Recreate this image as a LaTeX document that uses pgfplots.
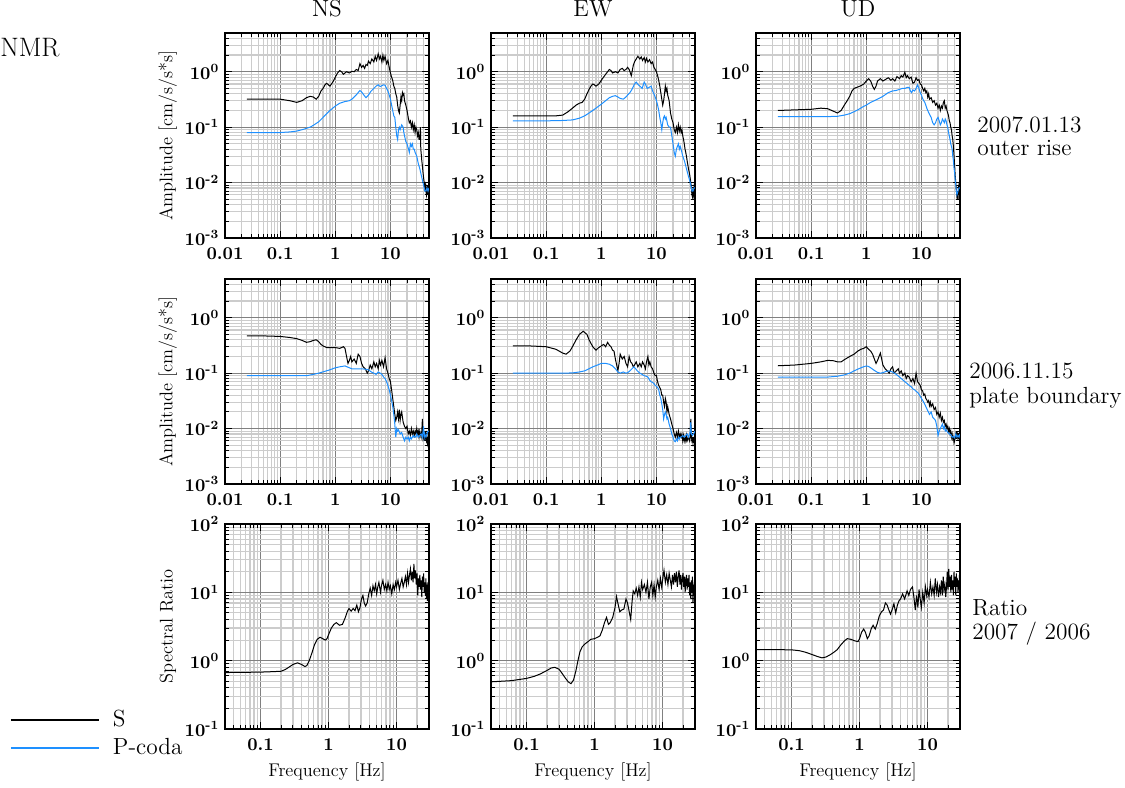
\documentclass[border=0pt]{standalone}
\usepackage{pgfplots}
\pgfplotsset{compat=1.18}
\definecolor{pcoda}{RGB}{30,144,255}
\newcommand{\tp}[1]{10\textsuperscript{#1}}
\pgfplotsset{
 myBase/.style={
  scale only axis, width=122.4pt, height=123pt,
  grid=both,
  major grid style={draw=black!50, line width=0.5pt},
  minor grid style={draw=black!20, line width=0.7pt},
  axis line style={line width=1pt},
  major tick length=4pt, minor tick length=2.2pt,
  tick style={black, line width=0.6pt},
  tick label style={font=\fontsize{10.8}{11}\selectfont\bfseries\boldmath},
  xticklabel style={yshift=-2pt},
  label style={font=\fontsize{11}{13}\selectfont},
  title style={font=\fontsize{14}{16}\selectfont},
  ylabel style={at={(axis description cs:-0.28,0.5)}, anchor=center},
 },
 myAmp/.style={myBase, xmin=0.01, xmax=50, ymin=1e-3, ymax=5,
  xtick={0.01,0.1,1,10}, xticklabels={0.01,0.1,1,10},
  ytick={0.001,0.01,0.1,1}, yticklabels={\tp{-3},\tp{-2},\tp{-1},\tp{0}},
  minor xtick={0.02,0.03,0.04,0.05,0.06,0.07,0.08,0.09,0.2,0.3,0.4,0.5,0.6,0.7,0.8,0.9,2,3,4,5,6,7,8,9,20,30,40,50},
  minor ytick={0.002,0.003,0.004,0.005,0.006,0.007,0.008,0.009,0.02,0.03,0.04,0.05,0.06,0.07,0.08,0.09,0.2,0.3,0.4,0.5,0.6,0.7,0.8,0.9,2,3,4,5},
 },
 myRat/.style={myBase, xmin=0.03, xmax=30, ymin=0.1, ymax=100,
  xtick={0.1,1,10}, xticklabels={0.1,1,10},
  ytick={0.1,1,10,100}, yticklabels={\tp{-1},\tp{0},\tp{1},\tp{2}},
  minor xtick={0.03,0.04,0.05,0.06,0.07,0.08,0.09,0.2,0.3,0.4,0.5,0.6,0.7,0.8,0.9,2,3,4,5,6,7,8,9,20,30},
  minor ytick={0.2,0.3,0.4,0.5,0.6,0.7,0.8,0.9,2,3,4,5,6,7,8,9,20,30,40,50,60,70,80,90},
  xlabel={Frequency [Hz]},
  xlabel style={at={(axis description cs:0.5,-0.21)}, anchor=center},
 },
}
\tikzset{mySline/.style={black, line width=0.6pt}, myPline/.style={pcoda, line width=0.6pt}}
\begin{document}
\begin{tikzpicture}
\path[use as bounding box] (0,0) rectangle (675pt,472.2pt);
\node[anchor=west, inner sep=0pt, font=\fontsize{16}{18}\selectfont] at (0pt,443.4pt) {NMR};
\node[anchor=west, align=left, inner sep=0pt, font=\fontsize{14}{13.8}\selectfont] at (586.2pt,390.3pt) {2007.01.13\\outer rise};
\node[anchor=west, align=left, inner sep=0pt, font=\fontsize{14}{14.8}\selectfont] at (581.4pt,240.9pt) {2006.11.15\\plate boundary};
\node[anchor=west, align=left, inner sep=0pt, font=\fontsize{14}{14.4}\selectfont] at (583.2pt,99pt) {Ratio\\2007 / 2006};

% ---------- Row 1: 2007 outer rise ----------
\begin{loglogaxis}[myAmp, at={(135pt,452.4pt)}, anchor=north west, title={NS}, ylabel={Amplitude [cm/s/s*s]}]
\addplot[mySline] coordinates {(0.025,0.32)(0.05,0.32)(0.1,0.32)(0.15,0.3)(0.2,0.28)(0.25,0.3)(0.3,0.34)(0.35,0.36)(0.4,0.35)(0.45,0.32)(0.5,0.36)(0.55,0.45)(0.6,0.5)(0.65,0.58)(0.7,0.62)(0.75,0.58)(0.8,0.55)(0.9,0.65)(1.0,0.8)(1.1,0.95)(1.2,1.05)(1.3,1.0)(1.4,0.9)(1.5,0.95)(1.6,1.0)(1.8,0.95)(2.0,1.02)(2.2,1.0)(2.4,1.1)(2.6,1.05)(2.8,1.4)(3.0,1.2)(3.2,1.3)(3.4,1.15)(3.6,1.35)(3.8,1.3)(4.0,1.55)(4.3,1.4)(4.6,1.7)(5.0,1.5)(5.3,1.9)(5.6,1.6)(6.0,2.1)(6.3,1.7)(6.6,1.9)(7.0,1.5)(7.3,2.0)(7.6,1.6)(8.0,1.9)(8.5,1.4)(9.0,1.6)(9.5,1.2)(10,0.95)(10.5,0.8)(11,0.7)(11.5,0.55)(12,0.5)(12.5,0.4)(13,0.35)(13.5,0.25)(14,0.2)(14.5,0.18)(15,0.25)(15.5,0.35)(16,0.3)(16.5,0.42)(17,0.38)(17.5,0.4)(18,0.3)(19,0.25)(20,0.2)(21,0.15)(22,0.12)(23,0.13)(24,0.1)(25,0.12)(26,0.09)(27,0.11)(28,0.08)(29,0.1)(30,0.09)(31,0.07)(32,0.08)(33,0.06)(34,0.06)(35,0.1)(35.5,0.04)(36,0.035)(37,0.025)(38,0.02)(39,0.015)(40,0.012)(41,0.01)(42,0.008)(43,0.009)(44,0.007)(45,0.006)(46,0.008)(47,0.007)(48,0.009)(49,0.007)(50,0.008)};
\addplot[myPline] coordinates {(0.025,0.08)(0.05,0.08)(0.1,0.08)(0.15,0.082)(0.2,0.085)(0.25,0.09)(0.3,0.095)(0.35,0.1)(0.4,0.108)(0.5,0.125)(0.6,0.15)(0.7,0.175)(0.8,0.2)(1.0,0.24)(1.2,0.27)(1.5,0.29)(1.8,0.3)(2.0,0.32)(2.2,0.35)(2.5,0.4)(2.8,0.46)(3.0,0.43)(3.3,0.38)(3.6,0.34)(4.0,0.38)(4.4,0.44)(5.0,0.5)(5.5,0.55)(6.0,0.58)(6.5,0.54)(7.0,0.56)(7.5,0.58)(8.0,0.57)(8.5,0.5)(9.0,0.45)(9.5,0.38)(10,0.32)(10.5,0.25)(11,0.2)(11.5,0.16)(12,0.15)(12.5,0.1)(13,0.07)(13.5,0.06)(14,0.09)(14.5,0.1)(15,0.09)(16,0.11)(17,0.1)(17.5,0.08)(18,0.07)(19,0.055)(20,0.05)(21,0.042)(22,0.035)(23,0.05)(24,0.045)(25,0.05)(26,0.04)(27,0.04)(28,0.035)(30,0.03)(32,0.022)(34,0.018)(36,0.014)(38,0.011)(40,0.009)(42,0.007)(44,0.007)(46,0.008)(48,0.007)(50,0.008)};
\end{loglogaxis}

\begin{loglogaxis}[myAmp, at={(294.6pt,452.4pt)}, anchor=north west, title={EW}]
\addplot[mySline] coordinates {(0.025,0.16)(0.05,0.16)(0.1,0.16)(0.15,0.16)(0.2,0.165)(0.25,0.19)(0.3,0.22)(0.35,0.25)(0.4,0.27)(0.45,0.28)(0.5,0.32)(0.55,0.4)(0.6,0.48)(0.65,0.55)(0.7,0.6)(0.75,0.58)(0.8,0.55)(0.9,0.6)(1.0,0.7)(1.1,0.8)(1.2,0.9)(1.3,1.0)(1.4,1.1)(1.5,1.05)(1.6,0.95)(1.8,1.0)(2.0,0.95)(2.2,1.1)(2.4,1.15)(2.6,1.05)(2.8,1.1)(3.0,1.2)(3.2,1.1)(3.5,0.85)(3.8,1.3)(4.0,1.5)(4.3,1.7)(4.6,1.9)(5.0,1.7)(5.3,1.85)(5.6,1.6)(6.0,1.8)(6.3,1.5)(6.6,1.75)(7.0,1.5)(7.5,1.65)(8.0,1.4)(8.5,1.5)(9.0,1.2)(9.5,1.1)(10,1.0)(10.5,0.85)(11,0.7)(11.5,0.55)(12,0.42)(12.5,0.32)(13,0.25)(13.5,0.3)(14,0.4)(14.5,0.55)(15,0.45)(15.5,0.5)(16,0.38)(17,0.3)(18,0.18)(19,0.14)(20,0.12)(21,0.09)(22,0.08)(23,0.1)(24,0.08)(25,0.11)(26,0.085)(27,0.1)(28,0.08)(29,0.09)(30,0.07)(31,0.06)(32,0.05)(33,0.04)(34,0.035)(35,0.03)(36,0.025)(38,0.018)(40,0.014)(42,0.01)(43,0.008)(44,0.006)(45,0.0055)(46,0.007)(47,0.006)(48,0.008)(49,0.007)(50,0.009)};
\addplot[myPline] coordinates {(0.025,0.13)(0.05,0.13)(0.1,0.13)(0.2,0.132)(0.3,0.135)(0.4,0.145)(0.5,0.16)(0.6,0.18)(0.7,0.2)(0.85,0.23)(1.0,0.26)(1.2,0.3)(1.4,0.34)(1.6,0.36)(1.8,0.37)(2.0,0.35)(2.2,0.33)(2.5,0.32)(2.8,0.35)(3.0,0.38)(3.3,0.42)(3.6,0.48)(4.0,0.6)(4.3,0.65)(4.7,0.58)(5.0,0.55)(5.5,0.5)(6.0,0.65)(6.3,0.6)(6.8,0.5)(7.3,0.52)(8.0,0.55)(8.5,0.45)(9.0,0.4)(9.5,0.35)(10,0.3)(10.5,0.25)(11,0.2)(11.5,0.15)(12,0.12)(12.5,0.09)(13,0.12)(13.5,0.15)(14,0.16)(14.5,0.14)(15,0.15)(16,0.11)(17,0.1)(18,0.1)(19,0.07)(20,0.05)(21,0.035)(22,0.03)(23,0.04)(24,0.045)(25,0.05)(26,0.04)(27,0.045)(28,0.04)(30,0.03)(32,0.025)(34,0.02)(36,0.016)(38,0.013)(40,0.011)(42,0.009)(44,0.007)(46,0.007)(48,0.008)(50,0.008)};
\end{loglogaxis}

\begin{loglogaxis}[myAmp, at={(453.6pt,452.4pt)}, anchor=north west, title={UD}]
\addplot[mySline] coordinates {(0.025,0.2)(0.05,0.205)(0.1,0.21)(0.15,0.22)(0.2,0.215)(0.25,0.195)(0.3,0.18)(0.35,0.2)(0.4,0.25)(0.45,0.3)(0.5,0.36)(0.55,0.45)(0.6,0.5)(0.7,0.53)(0.8,0.56)(0.9,0.6)(1.0,0.68)(1.1,0.75)(1.2,0.68)(1.3,0.55)(1.4,0.48)(1.5,0.55)(1.6,0.68)(1.8,0.75)(2.0,0.68)(2.2,0.72)(2.5,0.78)(2.8,0.7)(3.0,0.75)(3.3,0.68)(3.6,0.82)(4.0,0.75)(4.3,0.85)(4.6,0.8)(5.0,0.98)(5.3,0.78)(5.6,0.85)(6.0,0.75)(6.5,0.8)(7.0,0.62)(7.5,0.65)(8.0,0.78)(8.5,0.7)(9.0,0.72)(9.5,0.6)(10,0.58)(10.5,0.5)(11,0.45)(11.5,0.5)(12,0.42)(12.5,0.45)(13,0.35)(13.5,0.4)(14,0.32)(15,0.34)(16,0.28)(17,0.3)(18,0.25)(19,0.27)(20,0.22)(21,0.25)(22,0.2)(23,0.24)(24,0.22)(25,0.28)(26,0.3)(27,0.22)(28,0.24)(29,0.2)(30,0.18)(31,0.16)(32,0.13)(33,0.12)(34,0.1)(35,0.09)(36,0.07)(37,0.06)(38,0.045)(39,0.03)(40,0.02)(41,0.013)(42,0.01)(43,0.007)(44,0.0055)(45,0.006)(46,0.005)(47,0.008)(48,0.007)(49,0.009)(50,0.009)};
\addplot[myPline] coordinates {(0.025,0.155)(0.05,0.155)(0.1,0.155)(0.2,0.155)(0.3,0.157)(0.4,0.165)(0.5,0.175)(0.6,0.19)(0.7,0.205)(0.85,0.23)(1.0,0.25)(1.2,0.28)(1.5,0.31)(1.8,0.34)(2.0,0.36)(2.5,0.42)(3.0,0.45)(3.5,0.46)(4.0,0.48)(4.5,0.5)(5.0,0.5)(5.5,0.52)(6.0,0.52)(6.3,0.45)(6.6,0.42)(7.0,0.47)(7.5,0.45)(8.0,0.5)(8.5,0.58)(9.0,0.5)(9.5,0.42)(10,0.38)(10.5,0.33)(11,0.3)(11.5,0.28)(12,0.25)(12.5,0.22)(13,0.2)(14,0.17)(15,0.15)(16,0.12)(17,0.11)(18,0.12)(19,0.14)(20,0.15)(21,0.13)(22,0.11)(23,0.12)(24,0.14)(25,0.13)(26,0.12)(27,0.14)(28,0.13)(29,0.11)(30,0.1)(31,0.08)(32,0.07)(33,0.06)(34,0.05)(35,0.045)(36,0.04)(37,0.03)(38,0.025)(39,0.018)(40,0.015)(41,0.011)(42,0.009)(43,0.007)(44,0.006)(46,0.007)(48,0.008)(50,0.008)};
\end{loglogaxis}

% ---------- Row 2: 2006 plate boundary ----------
\begin{loglogaxis}[myAmp, at={(135pt,304.8pt)}, anchor=north west, ylabel={Amplitude [cm/s/s*s]}]
\addplot[mySline] coordinates {(0.025,0.47)(0.05,0.47)(0.1,0.46)(0.15,0.44)(0.2,0.42)(0.25,0.39)(0.3,0.36)(0.35,0.37)(0.4,0.39)(0.45,0.4)(0.5,0.37)(0.55,0.33)(0.6,0.31)(0.7,0.29)(0.8,0.29)(1.0,0.29)(1.2,0.28)(1.3,0.29)(1.4,0.3)(1.5,0.28)(1.6,0.2)(1.7,0.15)(1.8,0.17)(1.9,0.2)(2.0,0.16)(2.2,0.18)(2.4,0.15)(2.6,0.22)(2.8,0.2)(3.0,0.15)(3.2,0.13)(3.5,0.12)(3.8,0.1)(4.0,0.11)(4.3,0.14)(4.6,0.12)(5.0,0.16)(5.3,0.13)(5.6,0.15)(6.0,0.12)(6.3,0.17)(6.6,0.14)(7.0,0.17)(7.5,0.13)(8.0,0.19)(8.5,0.12)(9.0,0.1)(9.5,0.08)(10,0.07)(10.5,0.05)(11,0.035)(11.5,0.025)(12,0.018)(12.5,0.014)(13,0.016)(13.5,0.02)(14,0.015)(14.5,0.022)(15,0.014)(15.5,0.018)(16,0.02)(17,0.013)(18,0.011)(19,0.01)(20,0.011)(21,0.008)(22,0.009)(23,0.0075)(24,0.01)(25,0.008)(26,0.009)(27,0.0075)(28,0.009)(29,0.008)(30,0.01)(31,0.008)(32,0.009)(33,0.007)(34,0.009)(35,0.008)(36,0.007)(37,0.009)(38,0.015)(39,0.007)(40,0.008)(41,0.006)(42,0.009)(43,0.007)(44,0.008)(45,0.006)(46,0.0065)(47,0.0055)(48,0.007)(49,0.006)(50,0.007)};
\addplot[myPline] coordinates {(0.025,0.09)(0.1,0.09)(0.2,0.09)(0.3,0.09)(0.4,0.095)(0.5,0.1)(0.65,0.108)(0.8,0.115)(1.0,0.125)(1.2,0.13)(1.5,0.135)(1.7,0.128)(2.0,0.12)(2.5,0.12)(3.0,0.12)(3.5,0.118)(4.0,0.115)(4.5,0.105)(5.0,0.1)(5.5,0.095)(6.0,0.105)(6.5,0.1)(7.0,0.095)(7.5,0.085)(8.0,0.08)(8.5,0.07)(9.0,0.06)(9.5,0.05)(10,0.04)(10.5,0.032)(11,0.025)(11.5,0.018)(12,0.012)(12.5,0.007)(13,0.01)(13.5,0.009)(14,0.0095)(15,0.008)(16,0.0085)(17,0.007)(18,0.006)(19,0.007)(20,0.0065)(21,0.007)(22,0.006)(23,0.007)(24,0.0065)(25,0.007)(26,0.0075)(27,0.007)(28,0.0072)(29,0.007)(30,0.008)(32,0.007)(34,0.0075)(36,0.008)(38,0.007)(40,0.011)(41,0.007)(42,0.008)(44,0.007)(46,0.008)(48,0.009)(50,0.009)};
\end{loglogaxis}

\begin{loglogaxis}[myAmp, at={(294.6pt,304.8pt)}, anchor=north west]
\addplot[mySline] coordinates {(0.025,0.31)(0.05,0.31)(0.1,0.3)(0.15,0.27)(0.2,0.23)(0.23,0.22)(0.27,0.25)(0.3,0.3)(0.35,0.4)(0.4,0.5)(0.47,0.57)(0.55,0.5)(0.6,0.4)(0.7,0.3)(0.8,0.26)(0.9,0.29)(1.0,0.31)(1.1,0.33)(1.2,0.3)(1.3,0.36)(1.4,0.32)(1.5,0.3)(1.6,0.26)(1.7,0.25)(1.8,0.18)(1.9,0.14)(2.0,0.11)(2.1,0.15)(2.2,0.22)(2.4,0.18)(2.6,0.2)(2.8,0.15)(3.0,0.13)(3.2,0.2)(3.4,0.16)(3.6,0.15)(3.8,0.13)(4.0,0.14)(4.3,0.16)(4.6,0.13)(5.0,0.15)(5.3,0.13)(5.6,0.16)(6.0,0.14)(6.3,0.12)(6.6,0.16)(7.0,0.2)(7.3,0.14)(7.6,0.16)(8.0,0.13)(8.5,0.12)(9.0,0.1)(9.5,0.09)(10,0.09)(10.5,0.07)(11,0.06)(11.5,0.055)(12,0.05)(12.5,0.04)(13,0.04)(13.5,0.03)(14,0.025)(14.5,0.035)(15,0.03)(15.5,0.02)(16,0.025)(17,0.018)(18,0.015)(19,0.012)(20,0.01)(21,0.008)(22,0.007)(23,0.0085)(24,0.007)(25,0.009)(26,0.007)(27,0.008)(28,0.007)(29,0.008)(30,0.006)(31,0.0075)(32,0.006)(33,0.007)(34,0.006)(35,0.0075)(36,0.006)(38,0.007)(40,0.006)(41,0.007)(42,0.015)(43,0.007)(44,0.006)(45,0.0065)(46,0.0055)(47,0.0065)(48,0.006)(49,0.007)(50,0.007)};
\addplot[myPline] coordinates {(0.025,0.1)(0.1,0.1)(0.2,0.1)(0.3,0.101)(0.4,0.105)(0.5,0.11)(0.6,0.12)(0.7,0.13)(0.85,0.14)(1.0,0.15)(1.2,0.15)(1.4,0.145)(1.6,0.135)(1.8,0.12)(2.0,0.105)(2.2,0.1)(2.5,0.105)(2.8,0.1)(3.0,0.102)(3.3,0.11)(3.6,0.12)(3.9,0.13)(4.2,0.12)(4.5,0.11)(5.0,0.1)(5.5,0.095)(6.0,0.09)(6.5,0.088)(7.0,0.085)(7.5,0.075)(8.0,0.07)(8.5,0.068)(9.0,0.065)(9.5,0.06)(10,0.058)(10.5,0.055)(11,0.05)(11.5,0.04)(12,0.035)(12.5,0.028)(13,0.022)(13.5,0.015)(14,0.018)(14.5,0.02)(15,0.018)(15.5,0.015)(16,0.016)(17,0.012)(18,0.01)(19,0.008)(20,0.007)(21,0.006)(22,0.0058)(23,0.0065)(24,0.006)(25,0.007)(26,0.0065)(27,0.007)(28,0.007)(30,0.0075)(32,0.007)(34,0.0075)(36,0.008)(38,0.007)(40,0.008)(41,0.009)(42,0.013)(43,0.008)(45,0.0075)(47,0.008)(50,0.009)};
\end{loglogaxis}

\begin{loglogaxis}[myAmp, at={(453.6pt,304.8pt)}, anchor=north west]
\addplot[mySline] coordinates {(0.025,0.136)(0.05,0.14)(0.1,0.15)(0.15,0.16)(0.2,0.17)(0.25,0.168)(0.3,0.16)(0.35,0.16)(0.4,0.175)(0.5,0.2)(0.6,0.22)(0.7,0.25)(0.8,0.27)(0.9,0.28)(1.0,0.3)(1.1,0.27)(1.2,0.25)(1.3,0.22)(1.4,0.18)(1.5,0.15)(1.6,0.17)(1.7,0.2)(1.8,0.23)(1.9,0.18)(2.0,0.14)(2.2,0.12)(2.4,0.11)(2.6,0.1)(2.8,0.12)(3.0,0.13)(3.2,0.1)(3.5,0.11)(3.8,0.12)(4.0,0.1)(4.3,0.11)(4.6,0.09)(5.0,0.1)(5.3,0.08)(5.6,0.09)(6.0,0.085)(6.5,0.07)(7.0,0.08)(7.5,0.065)(8.0,0.1)(8.5,0.07)(9.0,0.065)(9.5,0.06)(10,0.05)(10.5,0.048)(11,0.04)(11.5,0.042)(12,0.035)(12.5,0.033)(13,0.03)(13.5,0.032)(14,0.026)(14.5,0.03)(15,0.025)(16,0.028)(17,0.022)(18,0.024)(19,0.018)(20,0.02)(21,0.016)(22,0.019)(23,0.014)(24,0.016)(25,0.013)(26,0.014)(27,0.011)(28,0.012)(29,0.01)(30,0.011)(31,0.009)(32,0.01)(33,0.008)(34,0.009)(35,0.007)(36,0.008)(37,0.0065)(38,0.007)(39,0.0055)(40,0.006)(41,0.007)(42,0.008)(43,0.0065)(44,0.009)(45,0.007)(46,0.0065)(47,0.0075)(48,0.007)(49,0.008)(50,0.008)};
\addplot[myPline] coordinates {(0.025,0.085)(0.1,0.085)(0.2,0.085)(0.3,0.088)(0.4,0.093)(0.5,0.1)(0.6,0.11)(0.7,0.118)(0.85,0.128)(1.0,0.135)(1.1,0.132)(1.2,0.125)(1.4,0.112)(1.6,0.103)(1.8,0.1)(2.0,0.102)(2.3,0.108)(2.6,0.11)(3.0,0.105)(3.5,0.095)(4.0,0.085)(4.5,0.077)(5.0,0.07)(5.5,0.065)(6.0,0.06)(6.5,0.057)(7.0,0.052)(7.5,0.05)(8.0,0.047)(8.5,0.045)(9.0,0.042)(9.5,0.038)(10,0.035)(11,0.03)(12,0.025)(13,0.021)(14,0.018)(15,0.02)(16,0.016)(17,0.015)(18,0.014)(19,0.011)(20,0.0075)(21,0.009)(22,0.01)(23,0.011)(24,0.012)(25,0.01)(26,0.011)(27,0.009)(28,0.0095)(29,0.009)(30,0.0085)(32,0.008)(34,0.0078)(36,0.007)(38,0.0072)(40,0.0068)(42,0.008)(44,0.007)(46,0.0075)(48,0.007)(50,0.008)};
\end{loglogaxis}

% ---------- Row 3: spectral ratio ----------
\begin{loglogaxis}[myRat, at={(135pt,157.8pt)}, anchor=north west, ylabel={Spectral Ratio},
  legend style={at={(axis description cs:-1.054,0.108)}, anchor=north west, draw=none, fill=none,
    font=\fontsize{14}{16}\selectfont, inner sep=0pt, row sep=1.5pt},
  legend cell align=left,
  legend image code/.code={\draw[#1] (0pt,0pt) -- (52.8pt,0pt);}]
\addlegendimage{black, line width=0.8pt}\addlegendentry{\hspace{6pt}S}
\addlegendimage{pcoda, line width=0.8pt}\addlegendentry{\hspace{6pt}P-coda}
\addplot[mySline, forget plot] coordinates {(0.03,0.67)(0.06,0.675)(0.1,0.68)(0.15,0.69)(0.2,0.7)(0.23,0.74)(0.26,0.8)(0.3,0.88)(0.35,0.93)(0.4,0.88)(0.45,0.82)(0.48,0.85)(0.52,1.0)(0.57,1.3)(0.62,1.7)(0.68,2.05)(0.75,2.2)(0.82,2.1)(0.9,2.0)(0.95,2.1)(1.0,2.4)(1.1,3.0)(1.2,3.4)(1.3,3.6)(1.45,3.3)(1.6,3.4)(1.75,4.2)(1.9,5.3)(2.0,5.8)(2.15,5.3)(2.3,5.8)(2.45,5.4)(2.6,6.5)(2.75,5.2)(2.9,6.0)(3.05,8.0)(3.2,9.0)(3.35,7.0)(3.5,6.3)(3.7,7.0)(3.9,9.5)(4.1,11.5)(4.3,9.0)(4.5,12.5)(4.7,10.5)(4.9,13)(5.1,9.5)(5.3,12)(5.5,14)(5.8,10)(6.0,12.5)(6.3,15)(6.6,11)(6.9,13)(7.2,10.5)(7.5,14)(7.8,11)(8.1,12.5)(8.5,9.5)(8.9,13)(9.3,11)(9.7,14)(10,12)(10.5,15)(11,11)(11.5,13.5)(12,16)(12.5,12)(13,14)(13.5,17)(14,13)(14.5,19)(15,14)(15.5,18)(16,22)(16.5,15)(17,20)(17.5,14)(18,26)(18.5,16)(19,21)(19.5,13)(20,19)(20.5,9)(21,16)(21.5,12)(22,18)(22.5,11)(23,15)(23.5,8.5)(24,17)(24.5,12)(25,19)(25.5,10)(26,14)(26.5,9)(27,16)(27.5,8)(28,13)(28.5,7.5)(29,14)(29.5,10)(30,12)};
\end{loglogaxis}

\begin{loglogaxis}[myRat, at={(294.6pt,157.8pt)}, anchor=north west]
\addplot[mySline] coordinates {(0.03,0.49)(0.06,0.51)(0.1,0.55)(0.13,0.59)(0.16,0.64)(0.2,0.72)(0.23,0.78)(0.26,0.8)(0.3,0.75)(0.33,0.66)(0.37,0.56)(0.41,0.49)(0.45,0.46)(0.49,0.52)(0.53,0.7)(0.57,1.0)(0.61,1.35)(0.66,1.6)(0.72,1.75)(0.8,1.9)(0.88,2.05)(1.0,2.1)(1.1,2.2)(1.2,2.3)(1.3,2.8)(1.4,3.6)(1.5,4.3)(1.6,3.4)(1.7,3.6)(1.85,4.3)(2.0,6.0)(2.1,8.7)(2.2,7.0)(2.35,5.2)(2.5,5.5)(2.7,5.7)(2.9,8.0)(3.05,7.0)(3.2,5.5)(3.4,4.0)(3.55,7.0)(3.7,10.5)(3.9,9.5)(4.1,11.5)(4.3,9.0)(4.5,12)(4.7,8.5)(4.9,14)(5.1,11)(5.4,13)(5.7,10)(6.0,14)(6.3,8.0)(6.6,12)(6.9,14)(7.2,9)(7.5,13)(7.8,8.5)(8.1,12)(8.5,15)(8.9,11)(9.3,16)(9.7,12)(10,15)(10.5,21)(11,14)(11.5,18)(12,13)(12.5,19)(13,15)(13.5,12)(14,18)(14.5,13)(15,19)(15.5,14)(16,20)(16.5,12)(17,17)(17.5,21)(18,13)(18.5,18)(19,11)(19.5,16)(20,19)(20.5,12)(21,17)(21.5,10)(22,15)(22.5,18)(23,11)(23.5,16)(24,12)(24.5,18)(25,9)(25.5,14)(26,8)(26.5,15)(27,10)(27.5,17)(28,7)(28.5,13)(29,9)(29.5,14)(30,8)};
\end{loglogaxis}

\begin{loglogaxis}[myRat, at={(453.6pt,157.8pt)}, anchor=north west]
\addplot[mySline] coordinates {(0.03,1.45)(0.06,1.45)(0.1,1.44)(0.13,1.4)(0.16,1.33)(0.2,1.23)(0.24,1.15)(0.28,1.1)(0.32,1.13)(0.37,1.22)(0.42,1.33)(0.47,1.45)(0.53,1.7)(0.6,1.95)(0.66,2.1)(0.75,2.05)(0.85,1.95)(0.95,1.9)(1.0,2.1)(1.07,2.6)(1.15,2.9)(1.22,2.6)(1.3,2.1)(1.38,2.3)(1.48,2.9)(1.58,3.3)(1.7,2.9)(1.82,3.5)(1.95,4.5)(2.1,5.2)(2.25,5.5)(2.4,7.0)(2.55,6.5)(2.7,5.5)(2.85,4.8)(3.0,5.5)(3.2,6.8)(3.4,5.0)(3.6,6.5)(3.8,7.5)(4.0,8.0)(4.3,9.5)(4.6,8.0)(5.0,10.5)(5.3,9.0)(5.6,11)(6.0,12)(6.3,8.5)(6.6,5.5)(6.9,9)(7.2,6)(7.5,11)(7.8,8)(8.1,6)(8.5,10)(8.9,7)(9.3,12)(9.7,9)(10,11)(10.5,8.5)(11,14)(11.5,9.5)(12,12)(12.5,9)(13,16)(13.5,10)(14,13)(14.5,8.5)(15,12)(15.5,10)(16,15)(16.5,9)(17,17)(17.5,11)(18,13)(18.5,8.5)(19,12)(19.5,20)(20,11)(20.5,22)(21,12)(21.5,17)(22,10)(22.5,18)(23,11)(23.5,15)(24,9)(24.5,20)(25,12)(25.5,17)(26,9)(26.5,19)(27,12)(27.5,16)(28,10)(28.5,15)(29,11)(29.5,18)(30,13)};
\end{loglogaxis}
\end{tikzpicture}
\end{document}
